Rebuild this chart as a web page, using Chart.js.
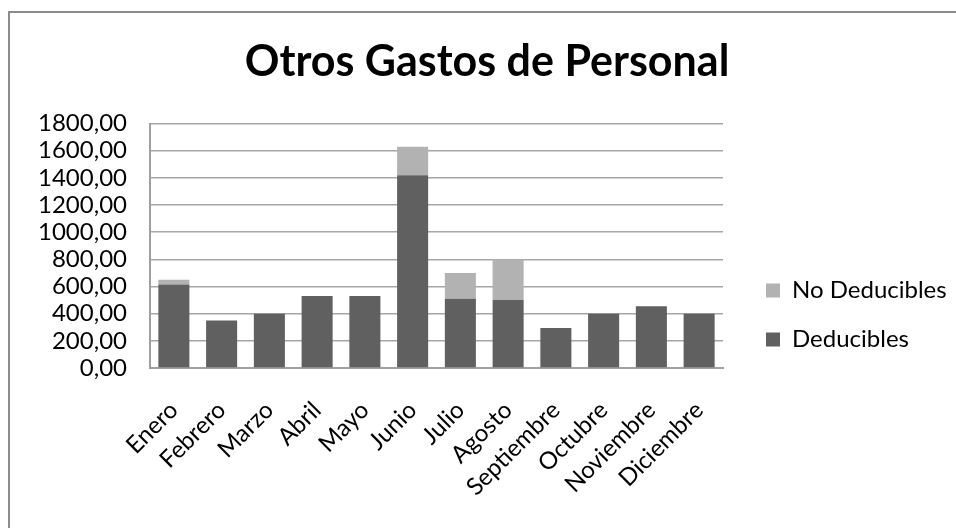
<!DOCTYPE html>
<html>
<head>
<meta charset="utf-8">
<script src="https://cdn.jsdelivr.net/npm/chart.js@4"></script>
<style>
  body { margin: 0; background: #fff; }
  #wrap { position: relative; width: 956px; height: 528px; }
  #marco { position: absolute; left: 8px; top: 11px; right: 0; bottom: 0; border-top: 2px solid #8c8c8c; border-left: 2px solid #8c8c8c; }
  canvas { position: absolute; left: 0; top: 0; }
</style>
</head>
<body>
<div id="wrap">
  <div id="marco"></div>
  <canvas id="grafico" width="956" height="528"></canvas>
</div>
<script>
const meses = ["Enero", "Febrero", "Marzo", "Abril", "Mayo", "Junio", "Julio", "Agosto", "Septiembre", "Octubre", "Noviembre", "Diciembre"];
const deducibles = [615, 350, 400, 530, 530, 1420, 510, 500, 295, 400, 455, 400];
const noDeducibles = [35, 0, 0, 0, 0, 210, 190, 300, 0, 0, 0, 0];

const fuente = "Lato, 'Open Sans', sans-serif";

// la leyenda de Excel queda mas separada del area del grafico y mas abajo
const ajusteLeyenda = {
	id: 'ajusteLeyenda',
	afterInit(chart) {
		const leyenda = chart.legend;
		const fitOriginal = leyenda.fit;
		leyenda.fit = function () {
			fitOriginal.call(this);
			this.width = 233;
		};
	},
	afterLayout(chart) {
		const leyenda = chart.legend;
		leyenda.left += 18;
		leyenda.right += 18;
		leyenda.top += 51;
		leyenda.bottom += 51;
	}
};

const grafico = document.getElementById("grafico");

new Chart(grafico, {
	type: 'bar',
	data: {
		labels: meses,
		datasets: [{
			label: 'Deducibles',
			data: deducibles,
			backgroundColor: '#606060',
			borderWidth: 0
		}, {
			label: 'No Deducibles',
			data: noDeducibles,
			backgroundColor: '#b2b2b2',
			borderWidth: 0
		}]
	},
	options: {
		responsive: false,
		animation: false,
		layout: { padding: { left: 18, right: 0, top: 0, bottom: 0 } },
		plugins: {
			title: {
				display: true,
				text: 'Otros Gastos de Personal',
				color: '#000',
				font: { family: fuente, size: 43, weight: 'bold' },
				padding: { top: 36, bottom: 36 }
			},
			legend: {
				position: 'right',
				reverse: true,
				labels: {
					color: '#000',
					font: { family: fuente, size: 24 },
					boxWidth: 14,
					boxHeight: 14,
					padding: 25
				}
			},
			tooltip: { enabled: false }
		},
		datasets: {
			bar: { categoryPercentage: 1, barPercentage: 0.65 }
		},
		scales: {
			x: {
				stacked: true,
				grid: { display: false },
				border: { color: '#a0a0a0', width: 2 },
				ticks: {
					color: '#000',
					font: { family: fuente, size: 24 },
					minRotation: 45,
					maxRotation: 45,
					autoSkip: false,
					padding: 20
				},
				afterFit: s => { s.height = 160; }
			},
			y: {
				stacked: true,
				min: 0,
				max: 1800,
				grid: { color: '#a6a6a6', lineWidth: 1.5, drawTicks: false },
				border: { color: '#a0a0a0', width: 2 },
				ticks: {
					stepSize: 200,
					autoSkip: false,
					color: '#000',
					font: { family: fuente, size: 24 },
					padding: 23,
					callback: v => v.toFixed(2).replace('.', ',')
				},
				afterFit: s => { s.width = 132; }
			}
		}
	},
	plugins: [ajusteLeyenda]
});
</script>
</body>
</html>
